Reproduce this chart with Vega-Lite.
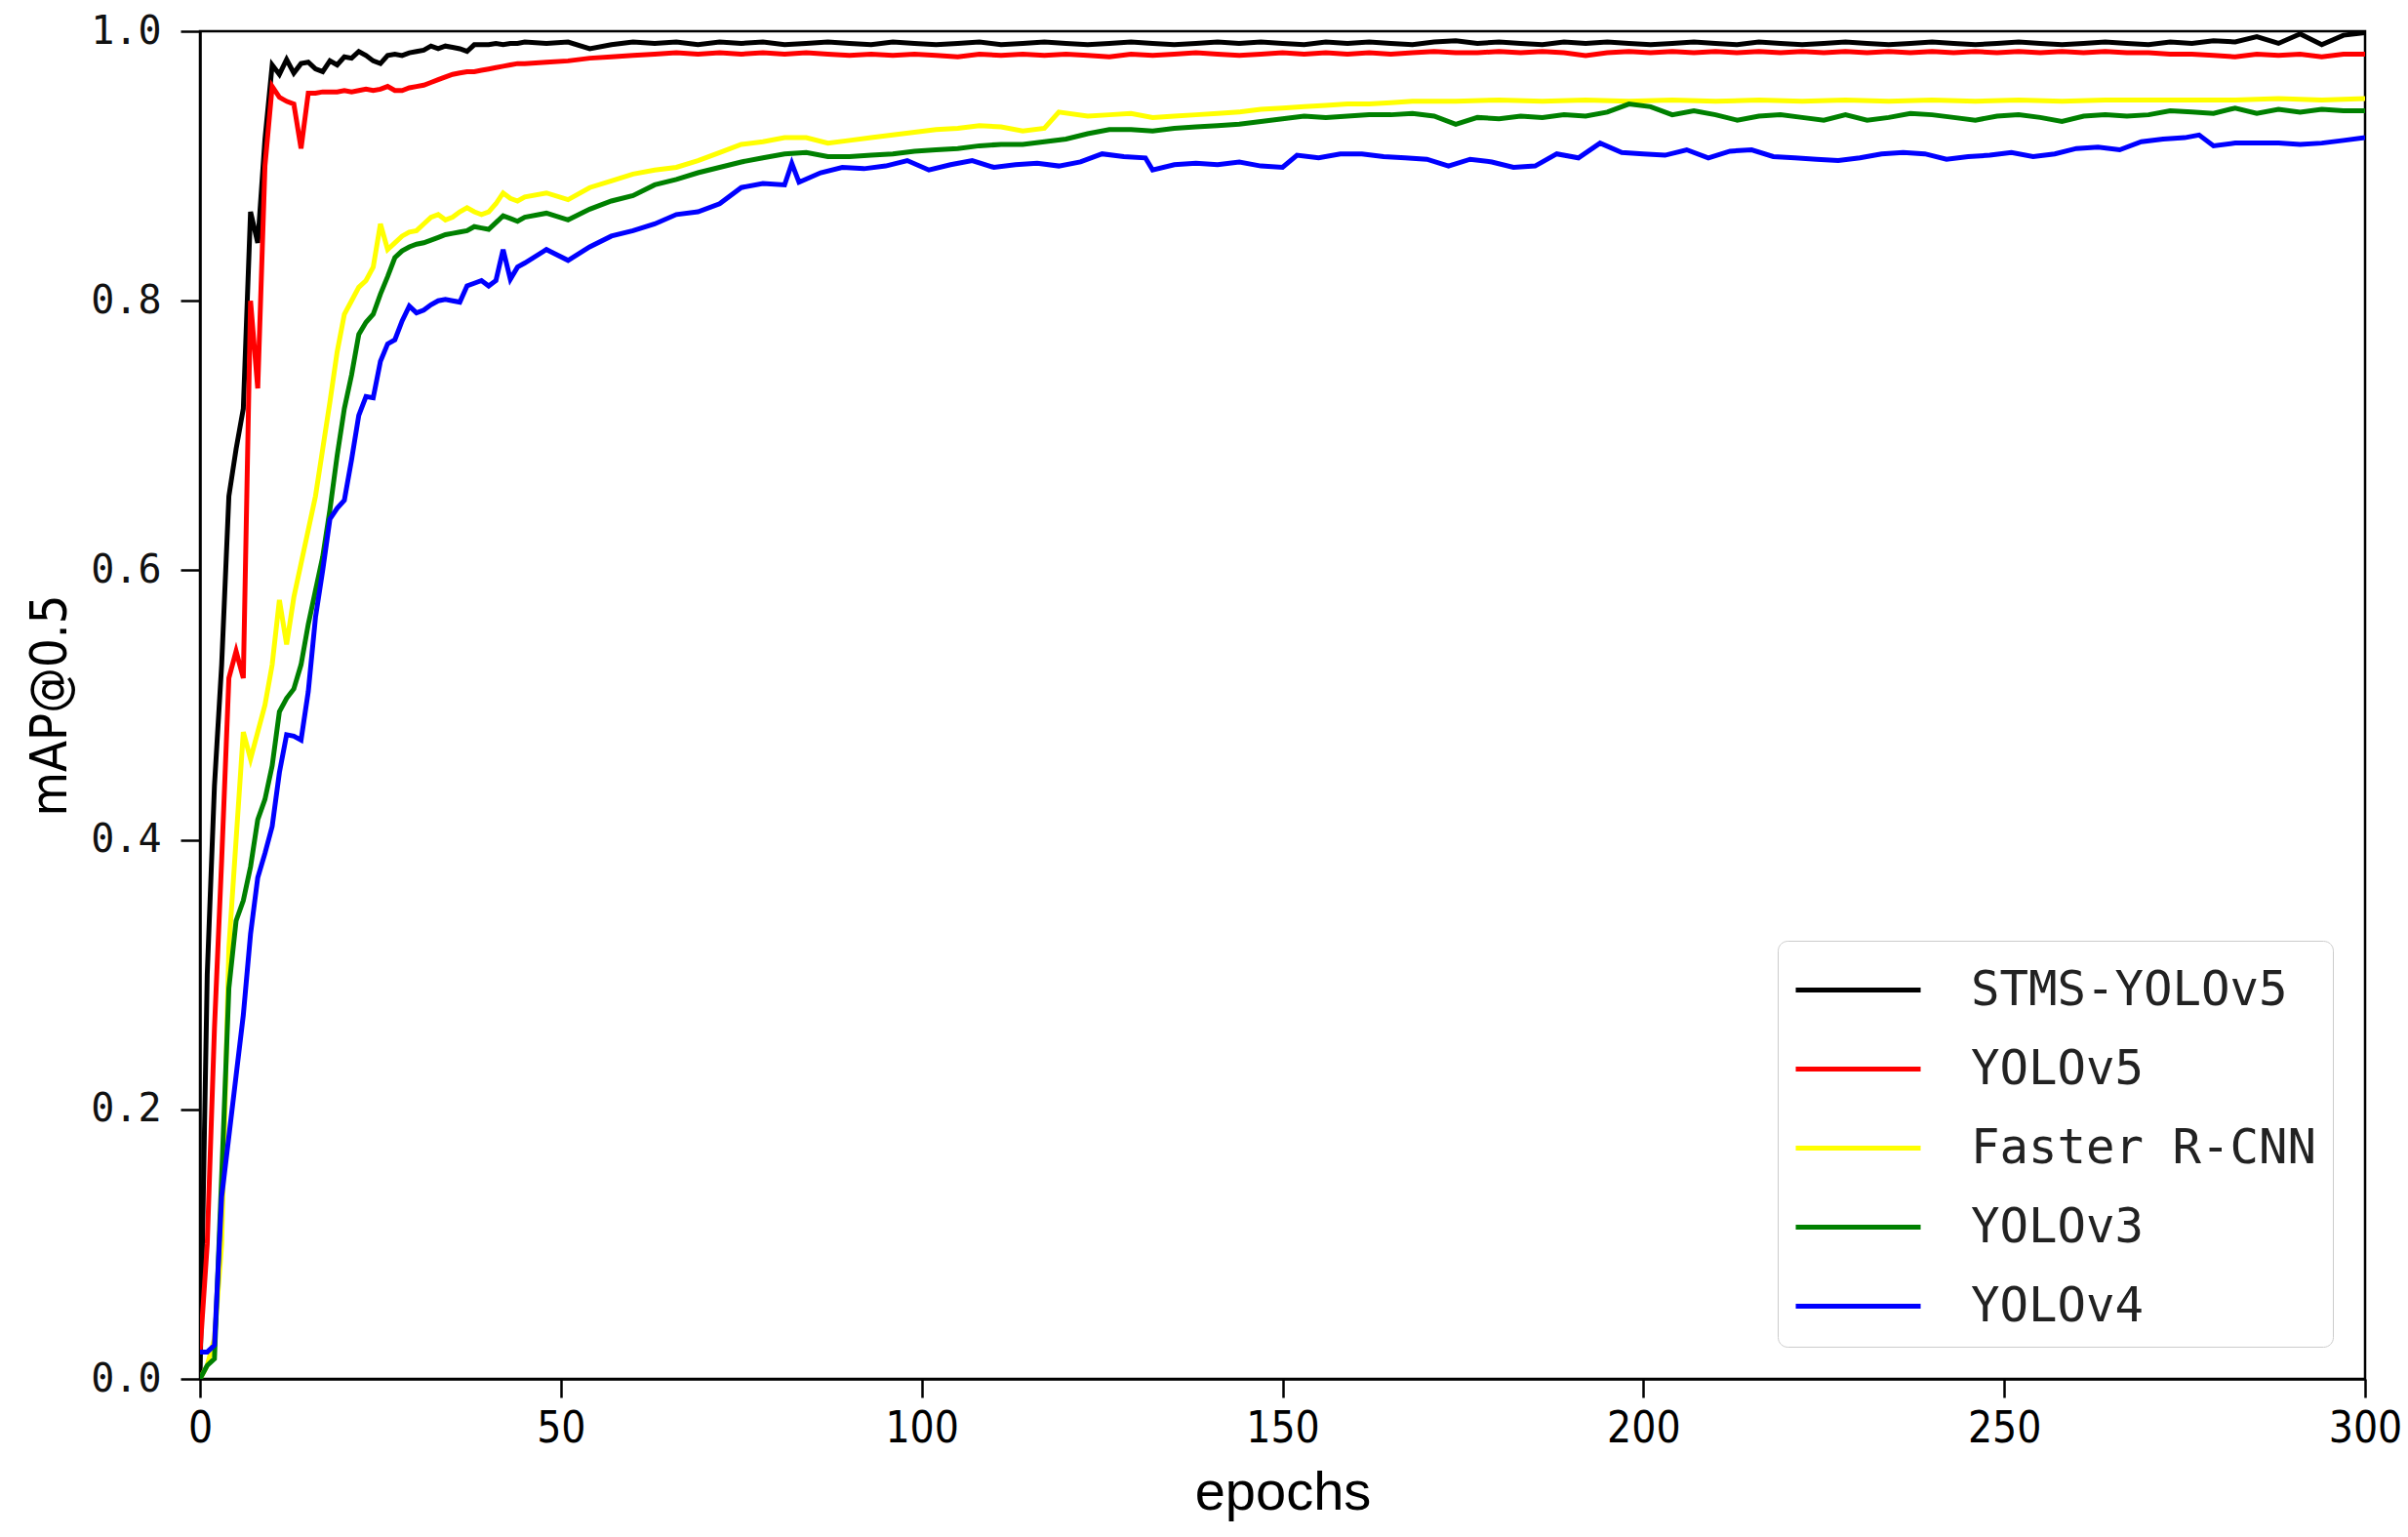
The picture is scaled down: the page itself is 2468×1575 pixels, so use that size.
{
"$schema": "https://vega.github.io/schema/vega-lite/v6.json",
"width": 2219, "height": 1381,
"autosize": {"type": "none"},
"padding": {"left": 205, "top": 32, "right": 44, "bottom": 162},
"background": "white",
"config": {"view": {"stroke": "black", "strokeWidth": 2.5}},
"data": {"values": [
{"m":"STMS-YOLOv5","e":0,"v":0.0},{"m":"STMS-YOLOv5","e":1,"v":0.30},{"m":"STMS-YOLOv5","e":2,"v":0.44},{"m":"STMS-YOLOv5","e":3,"v":0.53},{"m":"STMS-YOLOv5","e":4,"v":0.655},{"m":"STMS-YOLOv5","e":5,"v":0.69},{"m":"STMS-YOLOv5","e":6,"v":0.72},{"m":"STMS-YOLOv5","e":7,"v":0.866},{"m":"STMS-YOLOv5","e":8,"v":0.843},{"m":"STMS-YOLOv5","e":9,"v":0.92},{"m":"STMS-YOLOv5","e":10,"v":0.975},{"m":"STMS-YOLOv5","e":11,"v":0.968},{"m":"STMS-YOLOv5","e":12,"v":0.979},{"m":"STMS-YOLOv5","e":13,"v":0.969},{"m":"STMS-YOLOv5","e":14,"v":0.976},{"m":"STMS-YOLOv5","e":15,"v":0.977},{"m":"STMS-YOLOv5","e":16,"v":0.972},{"m":"STMS-YOLOv5","e":17,"v":0.970},{"m":"STMS-YOLOv5","e":18,"v":0.978},{"m":"STMS-YOLOv5","e":19,"v":0.975},{"m":"STMS-YOLOv5","e":20,"v":0.981},{"m":"STMS-YOLOv5","e":21,"v":0.980},{"m":"STMS-YOLOv5","e":22,"v":0.985},{"m":"STMS-YOLOv5","e":23,"v":0.982},{"m":"STMS-YOLOv5","e":24,"v":0.978},{"m":"STMS-YOLOv5","e":25,"v":0.976},{"m":"STMS-YOLOv5","e":26,"v":0.982},{"m":"STMS-YOLOv5","e":27,"v":0.983},{"m":"STMS-YOLOv5","e":28,"v":0.982},{"m":"STMS-YOLOv5","e":29,"v":0.984},{"m":"STMS-YOLOv5","e":30,"v":0.985},{"m":"STMS-YOLOv5","e":31,"v":0.986},{"m":"STMS-YOLOv5","e":32,"v":0.989},{"m":"STMS-YOLOv5","e":33,"v":0.987},{"m":"STMS-YOLOv5","e":34,"v":0.989},{"m":"STMS-YOLOv5","e":35,"v":0.988},{"m":"STMS-YOLOv5","e":36,"v":0.987},{"m":"STMS-YOLOv5","e":37,"v":0.985},{"m":"STMS-YOLOv5","e":38,"v":0.990},{"m":"STMS-YOLOv5","e":39,"v":0.990},{"m":"STMS-YOLOv5","e":40,"v":0.990},{"m":"STMS-YOLOv5","e":41,"v":0.991},{"m":"STMS-YOLOv5","e":42,"v":0.990},{"m":"STMS-YOLOv5","e":43,"v":0.991},{"m":"STMS-YOLOv5","e":44,"v":0.991},{"m":"STMS-YOLOv5","e":45,"v":0.992},
{"m":"STMS-YOLOv5","e":48,"v":0.991},{"m":"STMS-YOLOv5","e":51,"v":0.992},{"m":"STMS-YOLOv5","e":54,"v":0.987},{"m":"STMS-YOLOv5","e":57,"v":0.990},{"m":"STMS-YOLOv5","e":60,"v":0.992},{"m":"STMS-YOLOv5","e":63,"v":0.991},{"m":"STMS-YOLOv5","e":66,"v":0.992},{"m":"STMS-YOLOv5","e":69,"v":0.990},{"m":"STMS-YOLOv5","e":72,"v":0.992},{"m":"STMS-YOLOv5","e":75,"v":0.991},{"m":"STMS-YOLOv5","e":78,"v":0.992},{"m":"STMS-YOLOv5","e":81,"v":0.990},{"m":"STMS-YOLOv5","e":84,"v":0.991},{"m":"STMS-YOLOv5","e":87,"v":0.992},{"m":"STMS-YOLOv5","e":90,"v":0.991},{"m":"STMS-YOLOv5","e":93,"v":0.990},{"m":"STMS-YOLOv5","e":96,"v":0.992},{"m":"STMS-YOLOv5","e":99,"v":0.991},{"m":"STMS-YOLOv5","e":102,"v":0.990},{"m":"STMS-YOLOv5","e":105,"v":0.991},{"m":"STMS-YOLOv5","e":108,"v":0.992},{"m":"STMS-YOLOv5","e":111,"v":0.990},{"m":"STMS-YOLOv5","e":114,"v":0.991},{"m":"STMS-YOLOv5","e":117,"v":0.992},{"m":"STMS-YOLOv5","e":120,"v":0.991},{"m":"STMS-YOLOv5","e":123,"v":0.990},{"m":"STMS-YOLOv5","e":126,"v":0.991},{"m":"STMS-YOLOv5","e":129,"v":0.992},{"m":"STMS-YOLOv5","e":132,"v":0.991},{"m":"STMS-YOLOv5","e":135,"v":0.990},{"m":"STMS-YOLOv5","e":138,"v":0.991},{"m":"STMS-YOLOv5","e":141,"v":0.992},{"m":"STMS-YOLOv5","e":144,"v":0.991},{"m":"STMS-YOLOv5","e":147,"v":0.992},{"m":"STMS-YOLOv5","e":150,"v":0.991},{"m":"STMS-YOLOv5","e":153,"v":0.990},{"m":"STMS-YOLOv5","e":156,"v":0.992},{"m":"STMS-YOLOv5","e":159,"v":0.991},{"m":"STMS-YOLOv5","e":162,"v":0.992},{"m":"STMS-YOLOv5","e":165,"v":0.991},{"m":"STMS-YOLOv5","e":168,"v":0.990},{"m":"STMS-YOLOv5","e":171,"v":0.992},{"m":"STMS-YOLOv5","e":174,"v":0.993},{"m":"STMS-YOLOv5","e":177,"v":0.991},{"m":"STMS-YOLOv5","e":180,"v":0.992},{"m":"STMS-YOLOv5","e":183,"v":0.991},{"m":"STMS-YOLOv5","e":186,"v":0.990},{"m":"STMS-YOLOv5","e":189,"v":0.992},{"m":"STMS-YOLOv5","e":192,"v":0.991},{"m":"STMS-YOLOv5","e":195,"v":0.992},{"m":"STMS-YOLOv5","e":198,"v":0.991},{"m":"STMS-YOLOv5","e":201,"v":0.990},{"m":"STMS-YOLOv5","e":204,"v":0.991},{"m":"STMS-YOLOv5","e":207,"v":0.992},{"m":"STMS-YOLOv5","e":210,"v":0.991},{"m":"STMS-YOLOv5","e":213,"v":0.990},{"m":"STMS-YOLOv5","e":216,"v":0.992},{"m":"STMS-YOLOv5","e":219,"v":0.991},{"m":"STMS-YOLOv5","e":222,"v":0.990},{"m":"STMS-YOLOv5","e":225,"v":0.991},{"m":"STMS-YOLOv5","e":228,"v":0.992},{"m":"STMS-YOLOv5","e":231,"v":0.991},{"m":"STMS-YOLOv5","e":234,"v":0.990},{"m":"STMS-YOLOv5","e":237,"v":0.991},{"m":"STMS-YOLOv5","e":240,"v":0.992},{"m":"STMS-YOLOv5","e":243,"v":0.991},{"m":"STMS-YOLOv5","e":246,"v":0.990},{"m":"STMS-YOLOv5","e":249,"v":0.991},{"m":"STMS-YOLOv5","e":252,"v":0.992},{"m":"STMS-YOLOv5","e":255,"v":0.991},{"m":"STMS-YOLOv5","e":258,"v":0.990},{"m":"STMS-YOLOv5","e":261,"v":0.991},{"m":"STMS-YOLOv5","e":264,"v":0.992},{"m":"STMS-YOLOv5","e":267,"v":0.991},{"m":"STMS-YOLOv5","e":270,"v":0.990},{"m":"STMS-YOLOv5","e":273,"v":0.992},{"m":"STMS-YOLOv5","e":276,"v":0.991},{"m":"STMS-YOLOv5","e":279,"v":0.993},{"m":"STMS-YOLOv5","e":282,"v":0.992},{"m":"STMS-YOLOv5","e":285,"v":0.996},{"m":"STMS-YOLOv5","e":288,"v":0.991},{"m":"STMS-YOLOv5","e":291,"v":0.998},{"m":"STMS-YOLOv5","e":294,"v":0.990},{"m":"STMS-YOLOv5","e":297,"v":0.997},{"m":"STMS-YOLOv5","e":300,"v":0.999},
{"m":"YOLOv5","e":0,"v":0.02},{"m":"YOLOv5","e":1,"v":0.10},{"m":"YOLOv5","e":2,"v":0.26},{"m":"YOLOv5","e":3,"v":0.385},{"m":"YOLOv5","e":4,"v":0.52},{"m":"YOLOv5","e":5,"v":0.54},{"m":"YOLOv5","e":6,"v":0.52},{"m":"YOLOv5","e":7,"v":0.80},{"m":"YOLOv5","e":8,"v":0.735},{"m":"YOLOv5","e":9,"v":0.90},{"m":"YOLOv5","e":10,"v":0.959},{"m":"YOLOv5","e":11,"v":0.951},{"m":"YOLOv5","e":12,"v":0.948},{"m":"YOLOv5","e":13,"v":0.946},{"m":"YOLOv5","e":14,"v":0.913},{"m":"YOLOv5","e":15,"v":0.954},{"m":"YOLOv5","e":16,"v":0.954},{"m":"YOLOv5","e":17,"v":0.955},{"m":"YOLOv5","e":18,"v":0.955},{"m":"YOLOv5","e":19,"v":0.955},{"m":"YOLOv5","e":20,"v":0.956},{"m":"YOLOv5","e":21,"v":0.955},{"m":"YOLOv5","e":22,"v":0.956},{"m":"YOLOv5","e":23,"v":0.957},{"m":"YOLOv5","e":24,"v":0.956},{"m":"YOLOv5","e":25,"v":0.957},{"m":"YOLOv5","e":26,"v":0.959},{"m":"YOLOv5","e":27,"v":0.956},{"m":"YOLOv5","e":28,"v":0.956},{"m":"YOLOv5","e":29,"v":0.958},{"m":"YOLOv5","e":30,"v":0.959},{"m":"YOLOv5","e":31,"v":0.960},{"m":"YOLOv5","e":32,"v":0.962},{"m":"YOLOv5","e":33,"v":0.964},{"m":"YOLOv5","e":34,"v":0.966},{"m":"YOLOv5","e":35,"v":0.968},{"m":"YOLOv5","e":36,"v":0.969},{"m":"YOLOv5","e":37,"v":0.970},{"m":"YOLOv5","e":38,"v":0.970},{"m":"YOLOv5","e":39,"v":0.971},{"m":"YOLOv5","e":40,"v":0.972},{"m":"YOLOv5","e":41,"v":0.973},{"m":"YOLOv5","e":42,"v":0.974},{"m":"YOLOv5","e":43,"v":0.975},{"m":"YOLOv5","e":44,"v":0.976},{"m":"YOLOv5","e":45,"v":0.976},
{"m":"YOLOv5","e":48,"v":0.977},{"m":"YOLOv5","e":51,"v":0.978},{"m":"YOLOv5","e":54,"v":0.980},{"m":"YOLOv5","e":57,"v":0.981},{"m":"YOLOv5","e":60,"v":0.982},{"m":"YOLOv5","e":63,"v":0.983},{"m":"YOLOv5","e":66,"v":0.984},{"m":"YOLOv5","e":69,"v":0.983},{"m":"YOLOv5","e":72,"v":0.984},{"m":"YOLOv5","e":75,"v":0.983},{"m":"YOLOv5","e":78,"v":0.984},{"m":"YOLOv5","e":81,"v":0.983},{"m":"YOLOv5","e":84,"v":0.984},{"m":"YOLOv5","e":87,"v":0.983},{"m":"YOLOv5","e":90,"v":0.982},{"m":"YOLOv5","e":93,"v":0.983},{"m":"YOLOv5","e":96,"v":0.982},{"m":"YOLOv5","e":99,"v":0.983},{"m":"YOLOv5","e":102,"v":0.982},{"m":"YOLOv5","e":105,"v":0.981},{"m":"YOLOv5","e":108,"v":0.983},{"m":"YOLOv5","e":111,"v":0.982},{"m":"YOLOv5","e":114,"v":0.983},{"m":"YOLOv5","e":117,"v":0.982},{"m":"YOLOv5","e":120,"v":0.983},{"m":"YOLOv5","e":123,"v":0.982},{"m":"YOLOv5","e":126,"v":0.981},{"m":"YOLOv5","e":129,"v":0.983},{"m":"YOLOv5","e":132,"v":0.982},{"m":"YOLOv5","e":135,"v":0.983},{"m":"YOLOv5","e":138,"v":0.984},{"m":"YOLOv5","e":141,"v":0.983},{"m":"YOLOv5","e":144,"v":0.982},{"m":"YOLOv5","e":147,"v":0.983},{"m":"YOLOv5","e":150,"v":0.984},{"m":"YOLOv5","e":153,"v":0.983},{"m":"YOLOv5","e":156,"v":0.984},{"m":"YOLOv5","e":159,"v":0.983},{"m":"YOLOv5","e":162,"v":0.984},{"m":"YOLOv5","e":165,"v":0.983},{"m":"YOLOv5","e":168,"v":0.984},{"m":"YOLOv5","e":171,"v":0.985},{"m":"YOLOv5","e":174,"v":0.984},{"m":"YOLOv5","e":177,"v":0.984},{"m":"YOLOv5","e":180,"v":0.985},{"m":"YOLOv5","e":183,"v":0.984},{"m":"YOLOv5","e":186,"v":0.985},{"m":"YOLOv5","e":189,"v":0.984},{"m":"YOLOv5","e":192,"v":0.982},{"m":"YOLOv5","e":195,"v":0.984},{"m":"YOLOv5","e":198,"v":0.985},{"m":"YOLOv5","e":201,"v":0.984},{"m":"YOLOv5","e":204,"v":0.985},{"m":"YOLOv5","e":207,"v":0.984},{"m":"YOLOv5","e":210,"v":0.985},{"m":"YOLOv5","e":213,"v":0.984},{"m":"YOLOv5","e":216,"v":0.985},{"m":"YOLOv5","e":219,"v":0.984},{"m":"YOLOv5","e":222,"v":0.985},{"m":"YOLOv5","e":225,"v":0.984},{"m":"YOLOv5","e":228,"v":0.985},{"m":"YOLOv5","e":231,"v":0.984},{"m":"YOLOv5","e":234,"v":0.985},{"m":"YOLOv5","e":237,"v":0.984},{"m":"YOLOv5","e":240,"v":0.985},{"m":"YOLOv5","e":243,"v":0.984},{"m":"YOLOv5","e":246,"v":0.985},{"m":"YOLOv5","e":249,"v":0.984},{"m":"YOLOv5","e":252,"v":0.985},{"m":"YOLOv5","e":255,"v":0.984},{"m":"YOLOv5","e":258,"v":0.985},{"m":"YOLOv5","e":261,"v":0.984},{"m":"YOLOv5","e":264,"v":0.985},{"m":"YOLOv5","e":267,"v":0.984},{"m":"YOLOv5","e":270,"v":0.984},{"m":"YOLOv5","e":273,"v":0.983},{"m":"YOLOv5","e":276,"v":0.983},{"m":"YOLOv5","e":279,"v":0.982},{"m":"YOLOv5","e":282,"v":0.981},{"m":"YOLOv5","e":285,"v":0.983},{"m":"YOLOv5","e":288,"v":0.982},{"m":"YOLOv5","e":291,"v":0.983},{"m":"YOLOv5","e":294,"v":0.981},{"m":"YOLOv5","e":297,"v":0.983},{"m":"YOLOv5","e":300,"v":0.983},
{"m":"Faster R-CNN","e":0,"v":0.0},{"m":"Faster R-CNN","e":1,"v":0.01},{"m":"Faster R-CNN","e":2,"v":0.03},{"m":"Faster R-CNN","e":3,"v":0.10},{"m":"Faster R-CNN","e":4,"v":0.32},{"m":"Faster R-CNN","e":5,"v":0.40},{"m":"Faster R-CNN","e":6,"v":0.48},{"m":"Faster R-CNN","e":7,"v":0.46},{"m":"Faster R-CNN","e":8,"v":0.48},{"m":"Faster R-CNN","e":9,"v":0.50},{"m":"Faster R-CNN","e":10,"v":0.53},{"m":"Faster R-CNN","e":11,"v":0.578},{"m":"Faster R-CNN","e":12,"v":0.545},{"m":"Faster R-CNN","e":13,"v":0.58},{"m":"Faster R-CNN","e":14,"v":0.605},{"m":"Faster R-CNN","e":15,"v":0.63},{"m":"Faster R-CNN","e":16,"v":0.655},{"m":"Faster R-CNN","e":17,"v":0.69},{"m":"Faster R-CNN","e":18,"v":0.725},{"m":"Faster R-CNN","e":19,"v":0.762},{"m":"Faster R-CNN","e":20,"v":0.79},{"m":"Faster R-CNN","e":21,"v":0.80},{"m":"Faster R-CNN","e":22,"v":0.81},{"m":"Faster R-CNN","e":23,"v":0.815},{"m":"Faster R-CNN","e":24,"v":0.825},{"m":"Faster R-CNN","e":25,"v":0.857},{"m":"Faster R-CNN","e":26,"v":0.838},{"m":"Faster R-CNN","e":27,"v":0.843},{"m":"Faster R-CNN","e":28,"v":0.848},{"m":"Faster R-CNN","e":29,"v":0.851},{"m":"Faster R-CNN","e":30,"v":0.852},{"m":"Faster R-CNN","e":31,"v":0.857},{"m":"Faster R-CNN","e":32,"v":0.862},{"m":"Faster R-CNN","e":33,"v":0.864},{"m":"Faster R-CNN","e":34,"v":0.860},{"m":"Faster R-CNN","e":35,"v":0.862},{"m":"Faster R-CNN","e":36,"v":0.866},{"m":"Faster R-CNN","e":37,"v":0.869},{"m":"Faster R-CNN","e":38,"v":0.866},{"m":"Faster R-CNN","e":39,"v":0.864},{"m":"Faster R-CNN","e":40,"v":0.866},{"m":"Faster R-CNN","e":41,"v":0.872},{"m":"Faster R-CNN","e":42,"v":0.880},{"m":"Faster R-CNN","e":43,"v":0.876},{"m":"Faster R-CNN","e":44,"v":0.874},{"m":"Faster R-CNN","e":45,"v":0.877},
{"m":"Faster R-CNN","e":48,"v":0.880},{"m":"Faster R-CNN","e":51,"v":0.875},{"m":"Faster R-CNN","e":54,"v":0.884},{"m":"Faster R-CNN","e":57,"v":0.889},{"m":"Faster R-CNN","e":60,"v":0.894},{"m":"Faster R-CNN","e":63,"v":0.897},{"m":"Faster R-CNN","e":66,"v":0.899},{"m":"Faster R-CNN","e":69,"v":0.904},{"m":"Faster R-CNN","e":72,"v":0.910},{"m":"Faster R-CNN","e":75,"v":0.916},{"m":"Faster R-CNN","e":78,"v":0.918},{"m":"Faster R-CNN","e":81,"v":0.921},{"m":"Faster R-CNN","e":84,"v":0.921},{"m":"Faster R-CNN","e":87,"v":0.917},{"m":"Faster R-CNN","e":90,"v":0.919},{"m":"Faster R-CNN","e":93,"v":0.921},{"m":"Faster R-CNN","e":96,"v":0.923},{"m":"Faster R-CNN","e":99,"v":0.925},{"m":"Faster R-CNN","e":102,"v":0.927},{"m":"Faster R-CNN","e":105,"v":0.928},{"m":"Faster R-CNN","e":108,"v":0.930},{"m":"Faster R-CNN","e":111,"v":0.929},{"m":"Faster R-CNN","e":114,"v":0.926},{"m":"Faster R-CNN","e":117,"v":0.928},{"m":"Faster R-CNN","e":119,"v":0.940},{"m":"Faster R-CNN","e":123,"v":0.937},{"m":"Faster R-CNN","e":126,"v":0.938},{"m":"Faster R-CNN","e":129,"v":0.939},{"m":"Faster R-CNN","e":132,"v":0.936},{"m":"Faster R-CNN","e":135,"v":0.937},{"m":"Faster R-CNN","e":138,"v":0.938},{"m":"Faster R-CNN","e":141,"v":0.939},{"m":"Faster R-CNN","e":144,"v":0.940},{"m":"Faster R-CNN","e":147,"v":0.942},{"m":"Faster R-CNN","e":150,"v":0.943},{"m":"Faster R-CNN","e":153,"v":0.944},{"m":"Faster R-CNN","e":156,"v":0.945},{"m":"Faster R-CNN","e":159,"v":0.946},{"m":"Faster R-CNN","e":162,"v":0.946},{"m":"Faster R-CNN","e":165,"v":0.947},{"m":"Faster R-CNN","e":168,"v":0.948},{"m":"Faster R-CNN","e":174,"v":0.948},{"m":"Faster R-CNN","e":180,"v":0.949},{"m":"Faster R-CNN","e":186,"v":0.948},{"m":"Faster R-CNN","e":192,"v":0.949},{"m":"Faster R-CNN","e":198,"v":0.948},{"m":"Faster R-CNN","e":204,"v":0.949},{"m":"Faster R-CNN","e":210,"v":0.948},{"m":"Faster R-CNN","e":216,"v":0.949},{"m":"Faster R-CNN","e":222,"v":0.948},{"m":"Faster R-CNN","e":228,"v":0.949},{"m":"Faster R-CNN","e":234,"v":0.948},{"m":"Faster R-CNN","e":240,"v":0.949},{"m":"Faster R-CNN","e":246,"v":0.948},{"m":"Faster R-CNN","e":252,"v":0.949},{"m":"Faster R-CNN","e":258,"v":0.948},{"m":"Faster R-CNN","e":264,"v":0.949},{"m":"Faster R-CNN","e":270,"v":0.949},{"m":"Faster R-CNN","e":276,"v":0.949},{"m":"Faster R-CNN","e":282,"v":0.949},{"m":"Faster R-CNN","e":288,"v":0.950},{"m":"Faster R-CNN","e":294,"v":0.949},{"m":"Faster R-CNN","e":300,"v":0.950},
{"m":"YOLOv3","e":0,"v":0.0},{"m":"YOLOv3","e":1,"v":0.01},{"m":"YOLOv3","e":2,"v":0.015},{"m":"YOLOv3","e":3,"v":0.15},{"m":"YOLOv3","e":4,"v":0.29},{"m":"YOLOv3","e":5,"v":0.34},{"m":"YOLOv3","e":6,"v":0.355},{"m":"YOLOv3","e":7,"v":0.38},{"m":"YOLOv3","e":8,"v":0.415},{"m":"YOLOv3","e":9,"v":0.43},{"m":"YOLOv3","e":10,"v":0.455},{"m":"YOLOv3","e":11,"v":0.495},{"m":"YOLOv3","e":12,"v":0.505},{"m":"YOLOv3","e":13,"v":0.512},{"m":"YOLOv3","e":14,"v":0.53},{"m":"YOLOv3","e":15,"v":0.56},{"m":"YOLOv3","e":16,"v":0.585},{"m":"YOLOv3","e":17,"v":0.61},{"m":"YOLOv3","e":18,"v":0.645},{"m":"YOLOv3","e":19,"v":0.685},{"m":"YOLOv3","e":20,"v":0.72},{"m":"YOLOv3","e":21,"v":0.745},{"m":"YOLOv3","e":22,"v":0.775},{"m":"YOLOv3","e":23,"v":0.784},{"m":"YOLOv3","e":24,"v":0.79},{"m":"YOLOv3","e":25,"v":0.805},{"m":"YOLOv3","e":26,"v":0.818},{"m":"YOLOv3","e":27,"v":0.832},{"m":"YOLOv3","e":28,"v":0.837},{"m":"YOLOv3","e":29,"v":0.840},{"m":"YOLOv3","e":30,"v":0.842},{"m":"YOLOv3","e":31,"v":0.843},{"m":"YOLOv3","e":32,"v":0.845},{"m":"YOLOv3","e":33,"v":0.847},{"m":"YOLOv3","e":34,"v":0.849},{"m":"YOLOv3","e":35,"v":0.850},{"m":"YOLOv3","e":36,"v":0.851},{"m":"YOLOv3","e":37,"v":0.852},{"m":"YOLOv3","e":38,"v":0.855},{"m":"YOLOv3","e":39,"v":0.854},{"m":"YOLOv3","e":40,"v":0.853},{"m":"YOLOv3","e":41,"v":0.858},{"m":"YOLOv3","e":42,"v":0.863},{"m":"YOLOv3","e":43,"v":0.861},{"m":"YOLOv3","e":44,"v":0.859},{"m":"YOLOv3","e":45,"v":0.862},
{"m":"YOLOv3","e":48,"v":0.865},{"m":"YOLOv3","e":51,"v":0.860},{"m":"YOLOv3","e":54,"v":0.868},{"m":"YOLOv3","e":57,"v":0.874},{"m":"YOLOv3","e":60,"v":0.878},{"m":"YOLOv3","e":63,"v":0.886},{"m":"YOLOv3","e":66,"v":0.890},{"m":"YOLOv3","e":69,"v":0.895},{"m":"YOLOv3","e":72,"v":0.899},{"m":"YOLOv3","e":75,"v":0.903},{"m":"YOLOv3","e":78,"v":0.906},{"m":"YOLOv3","e":81,"v":0.909},{"m":"YOLOv3","e":84,"v":0.910},{"m":"YOLOv3","e":87,"v":0.907},{"m":"YOLOv3","e":90,"v":0.907},{"m":"YOLOv3","e":93,"v":0.908},{"m":"YOLOv3","e":96,"v":0.909},{"m":"YOLOv3","e":99,"v":0.911},{"m":"YOLOv3","e":102,"v":0.912},{"m":"YOLOv3","e":105,"v":0.913},{"m":"YOLOv3","e":108,"v":0.915},{"m":"YOLOv3","e":111,"v":0.916},{"m":"YOLOv3","e":114,"v":0.916},{"m":"YOLOv3","e":117,"v":0.918},{"m":"YOLOv3","e":120,"v":0.920},{"m":"YOLOv3","e":123,"v":0.924},{"m":"YOLOv3","e":126,"v":0.927},{"m":"YOLOv3","e":129,"v":0.927},{"m":"YOLOv3","e":132,"v":0.926},{"m":"YOLOv3","e":135,"v":0.928},{"m":"YOLOv3","e":138,"v":0.929},{"m":"YOLOv3","e":141,"v":0.930},{"m":"YOLOv3","e":144,"v":0.931},{"m":"YOLOv3","e":147,"v":0.933},{"m":"YOLOv3","e":150,"v":0.935},{"m":"YOLOv3","e":153,"v":0.937},{"m":"YOLOv3","e":156,"v":0.936},{"m":"YOLOv3","e":159,"v":0.937},{"m":"YOLOv3","e":162,"v":0.938},{"m":"YOLOv3","e":165,"v":0.938},{"m":"YOLOv3","e":168,"v":0.939},{"m":"YOLOv3","e":171,"v":0.937},{"m":"YOLOv3","e":174,"v":0.931},{"m":"YOLOv3","e":177,"v":0.936},{"m":"YOLOv3","e":180,"v":0.935},{"m":"YOLOv3","e":183,"v":0.937},{"m":"YOLOv3","e":186,"v":0.936},{"m":"YOLOv3","e":189,"v":0.938},{"m":"YOLOv3","e":192,"v":0.937},{"m":"YOLOv3","e":195,"v":0.940},{"m":"YOLOv3","e":198,"v":0.946},{"m":"YOLOv3","e":201,"v":0.944},{"m":"YOLOv3","e":204,"v":0.938},{"m":"YOLOv3","e":207,"v":0.941},{"m":"YOLOv3","e":210,"v":0.938},{"m":"YOLOv3","e":213,"v":0.934},{"m":"YOLOv3","e":216,"v":0.937},{"m":"YOLOv3","e":219,"v":0.938},{"m":"YOLOv3","e":222,"v":0.936},{"m":"YOLOv3","e":225,"v":0.934},{"m":"YOLOv3","e":228,"v":0.938},{"m":"YOLOv3","e":231,"v":0.934},{"m":"YOLOv3","e":234,"v":0.936},{"m":"YOLOv3","e":237,"v":0.939},{"m":"YOLOv3","e":240,"v":0.938},{"m":"YOLOv3","e":243,"v":0.936},{"m":"YOLOv3","e":246,"v":0.934},{"m":"YOLOv3","e":249,"v":0.937},{"m":"YOLOv3","e":252,"v":0.938},{"m":"YOLOv3","e":255,"v":0.936},{"m":"YOLOv3","e":258,"v":0.933},{"m":"YOLOv3","e":261,"v":0.937},{"m":"YOLOv3","e":264,"v":0.938},{"m":"YOLOv3","e":267,"v":0.937},{"m":"YOLOv3","e":270,"v":0.938},{"m":"YOLOv3","e":273,"v":0.941},{"m":"YOLOv3","e":276,"v":0.940},{"m":"YOLOv3","e":279,"v":0.939},{"m":"YOLOv3","e":282,"v":0.943},{"m":"YOLOv3","e":285,"v":0.939},{"m":"YOLOv3","e":288,"v":0.942},{"m":"YOLOv3","e":291,"v":0.940},{"m":"YOLOv3","e":294,"v":0.942},{"m":"YOLOv3","e":297,"v":0.941},{"m":"YOLOv3","e":300,"v":0.941},
{"m":"YOLOv4","e":0,"v":0.02},{"m":"YOLOv4","e":1,"v":0.02},{"m":"YOLOv4","e":2,"v":0.025},{"m":"YOLOv4","e":3,"v":0.135},{"m":"YOLOv4","e":4,"v":0.18},{"m":"YOLOv4","e":5,"v":0.225},{"m":"YOLOv4","e":6,"v":0.27},{"m":"YOLOv4","e":7,"v":0.33},{"m":"YOLOv4","e":8,"v":0.372},{"m":"YOLOv4","e":9,"v":0.39},{"m":"YOLOv4","e":10,"v":0.41},{"m":"YOLOv4","e":11,"v":0.45},{"m":"YOLOv4","e":12,"v":0.478},{"m":"YOLOv4","e":13,"v":0.477},{"m":"YOLOv4","e":14,"v":0.474},{"m":"YOLOv4","e":15,"v":0.51},{"m":"YOLOv4","e":16,"v":0.565},{"m":"YOLOv4","e":17,"v":0.60},{"m":"YOLOv4","e":18,"v":0.638},{"m":"YOLOv4","e":19,"v":0.646},{"m":"YOLOv4","e":20,"v":0.652},{"m":"YOLOv4","e":21,"v":0.682},{"m":"YOLOv4","e":22,"v":0.715},{"m":"YOLOv4","e":23,"v":0.729},{"m":"YOLOv4","e":24,"v":0.728},{"m":"YOLOv4","e":25,"v":0.755},{"m":"YOLOv4","e":26,"v":0.768},{"m":"YOLOv4","e":27,"v":0.771},{"m":"YOLOv4","e":28,"v":0.785},{"m":"YOLOv4","e":29,"v":0.796},{"m":"YOLOv4","e":30,"v":0.791},{"m":"YOLOv4","e":31,"v":0.793},{"m":"YOLOv4","e":32,"v":0.797},{"m":"YOLOv4","e":33,"v":0.800},{"m":"YOLOv4","e":34,"v":0.801},{"m":"YOLOv4","e":35,"v":0.800},{"m":"YOLOv4","e":36,"v":0.799},{"m":"YOLOv4","e":37,"v":0.811},{"m":"YOLOv4","e":38,"v":0.813},{"m":"YOLOv4","e":39,"v":0.815},{"m":"YOLOv4","e":40,"v":0.811},{"m":"YOLOv4","e":41,"v":0.815},{"m":"YOLOv4","e":42,"v":0.838},{"m":"YOLOv4","e":43,"v":0.816},{"m":"YOLOv4","e":44,"v":0.825},{"m":"YOLOv4","e":45,"v":0.828},
{"m":"YOLOv4","e":48,"v":0.838},{"m":"YOLOv4","e":51,"v":0.830},{"m":"YOLOv4","e":54,"v":0.840},{"m":"YOLOv4","e":57,"v":0.848},{"m":"YOLOv4","e":60,"v":0.852},{"m":"YOLOv4","e":63,"v":0.857},{"m":"YOLOv4","e":66,"v":0.864},{"m":"YOLOv4","e":69,"v":0.866},{"m":"YOLOv4","e":72,"v":0.872},{"m":"YOLOv4","e":75,"v":0.884},{"m":"YOLOv4","e":78,"v":0.887},{"m":"YOLOv4","e":81,"v":0.886},{"m":"YOLOv4","e":82,"v":0.902},{"m":"YOLOv4","e":83,"v":0.888},{"m":"YOLOv4","e":86,"v":0.895},{"m":"YOLOv4","e":89,"v":0.899},{"m":"YOLOv4","e":92,"v":0.898},{"m":"YOLOv4","e":95,"v":0.900},{"m":"YOLOv4","e":98,"v":0.904},{"m":"YOLOv4","e":101,"v":0.897},{"m":"YOLOv4","e":104,"v":0.901},{"m":"YOLOv4","e":107,"v":0.904},{"m":"YOLOv4","e":110,"v":0.899},{"m":"YOLOv4","e":113,"v":0.901},{"m":"YOLOv4","e":116,"v":0.902},{"m":"YOLOv4","e":119,"v":0.900},{"m":"YOLOv4","e":122,"v":0.903},{"m":"YOLOv4","e":125,"v":0.909},{"m":"YOLOv4","e":128,"v":0.907},{"m":"YOLOv4","e":131,"v":0.906},{"m":"YOLOv4","e":132,"v":0.897},{"m":"YOLOv4","e":135,"v":0.901},{"m":"YOLOv4","e":138,"v":0.902},{"m":"YOLOv4","e":141,"v":0.901},{"m":"YOLOv4","e":144,"v":0.903},{"m":"YOLOv4","e":147,"v":0.900},{"m":"YOLOv4","e":150,"v":0.899},{"m":"YOLOv4","e":152,"v":0.908},{"m":"YOLOv4","e":155,"v":0.906},{"m":"YOLOv4","e":158,"v":0.909},{"m":"YOLOv4","e":161,"v":0.909},{"m":"YOLOv4","e":164,"v":0.907},{"m":"YOLOv4","e":167,"v":0.906},{"m":"YOLOv4","e":170,"v":0.905},{"m":"YOLOv4","e":173,"v":0.900},{"m":"YOLOv4","e":176,"v":0.905},{"m":"YOLOv4","e":179,"v":0.903},{"m":"YOLOv4","e":182,"v":0.899},{"m":"YOLOv4","e":185,"v":0.900},{"m":"YOLOv4","e":188,"v":0.909},{"m":"YOLOv4","e":191,"v":0.906},{"m":"YOLOv4","e":194,"v":0.917},{"m":"YOLOv4","e":197,"v":0.910},{"m":"YOLOv4","e":200,"v":0.909},{"m":"YOLOv4","e":203,"v":0.908},{"m":"YOLOv4","e":206,"v":0.912},{"m":"YOLOv4","e":209,"v":0.906},{"m":"YOLOv4","e":212,"v":0.911},{"m":"YOLOv4","e":215,"v":0.912},{"m":"YOLOv4","e":218,"v":0.907},{"m":"YOLOv4","e":221,"v":0.906},{"m":"YOLOv4","e":224,"v":0.905},{"m":"YOLOv4","e":227,"v":0.904},{"m":"YOLOv4","e":230,"v":0.906},{"m":"YOLOv4","e":233,"v":0.909},{"m":"YOLOv4","e":236,"v":0.910},{"m":"YOLOv4","e":239,"v":0.909},{"m":"YOLOv4","e":242,"v":0.905},{"m":"YOLOv4","e":245,"v":0.907},{"m":"YOLOv4","e":248,"v":0.908},{"m":"YOLOv4","e":251,"v":0.910},{"m":"YOLOv4","e":254,"v":0.907},{"m":"YOLOv4","e":257,"v":0.909},{"m":"YOLOv4","e":260,"v":0.913},{"m":"YOLOv4","e":263,"v":0.914},{"m":"YOLOv4","e":266,"v":0.912},{"m":"YOLOv4","e":269,"v":0.918},{"m":"YOLOv4","e":272,"v":0.920},{"m":"YOLOv4","e":275,"v":0.921},{"m":"YOLOv4","e":277,"v":0.923},{"m":"YOLOv4","e":279,"v":0.915},{"m":"YOLOv4","e":282,"v":0.917},{"m":"YOLOv4","e":285,"v":0.917},{"m":"YOLOv4","e":288,"v":0.917},{"m":"YOLOv4","e":291,"v":0.916},{"m":"YOLOv4","e":294,"v":0.917},{"m":"YOLOv4","e":297,"v":0.919},{"m":"YOLOv4","e":300,"v":0.921}
]},
"mark": {"type": "line", "strokeWidth": 5, "clip": true},
"encoding": {
  "x": {"field": "e", "type": "quantitative", "scale": {"domain": [0, 300], "nice": false, "zero": false},
    "axis": {"title": "epochs", "values": [0, 50, 100, 150, 200, 250, 300], "grid": false, "domainColor": "black", "domainWidth": 2.5, "tickColor": "black", "tickWidth": 2.5, "tickSize": 19, "labelFont": "DejaVu Sans Condensed, Liberation Sans", "labelFontSize": 44, "labelColor": "black", "labelPadding": 10, "labelFlush": false, "labelOverlap": false, "titleFont": "Liberation Sans", "titleFontSize": 56, "titleFontWeight": "normal", "titleColor": "black", "titlePadding": 16}},
  "y": {"field": "v", "type": "quantitative", "scale": {"domain": [0, 1], "nice": false},
    "axis": {"title": "mAP@0.5", "values": [0, 0.2, 0.4, 0.6, 0.8, 1.0], "format": ".1f", "grid": false, "domainColor": "black", "domainWidth": 2.5, "tickColor": "black", "tickWidth": 2.5, "tickSize": 20, "labelFont": "DejaVu Sans Mono", "labelFontSize": 40, "labelColor": "#111111", "labelPadding": 20, "labelFlush": false, "labelOverlap": false, "titleFont": "DejaVu Sans Condensed, Liberation Sans", "titleFontSize": 52, "titleFontWeight": "normal", "titleColor": "black", "titlePadding": 14}},
  "color": {"field": "m", "type": "nominal",
    "scale": {"domain": ["STMS-YOLOv5", "YOLOv5", "Faster R-CNN", "YOLOv3", "YOLOv4"], "range": ["#000000", "#ff0000", "#ffff00", "#008000", "#0000ff"]},
    "legend": {"title": null, "orient": "none", "legendX": 1617, "legendY": 932, "symbolType": "M-1,0H3", "symbolSize": 4096, "symbolStrokeWidth": 5, "labelFont": "DejaVu Sans Mono", "labelFontSize": 49, "labelColor": "#222222", "labelOffset": 113, "labelLimit": 1000, "rowPadding": 21, "padding": 16, "strokeColor": "#cccccc", "fillColor": "white", "cornerRadius": 10}}
}
}
